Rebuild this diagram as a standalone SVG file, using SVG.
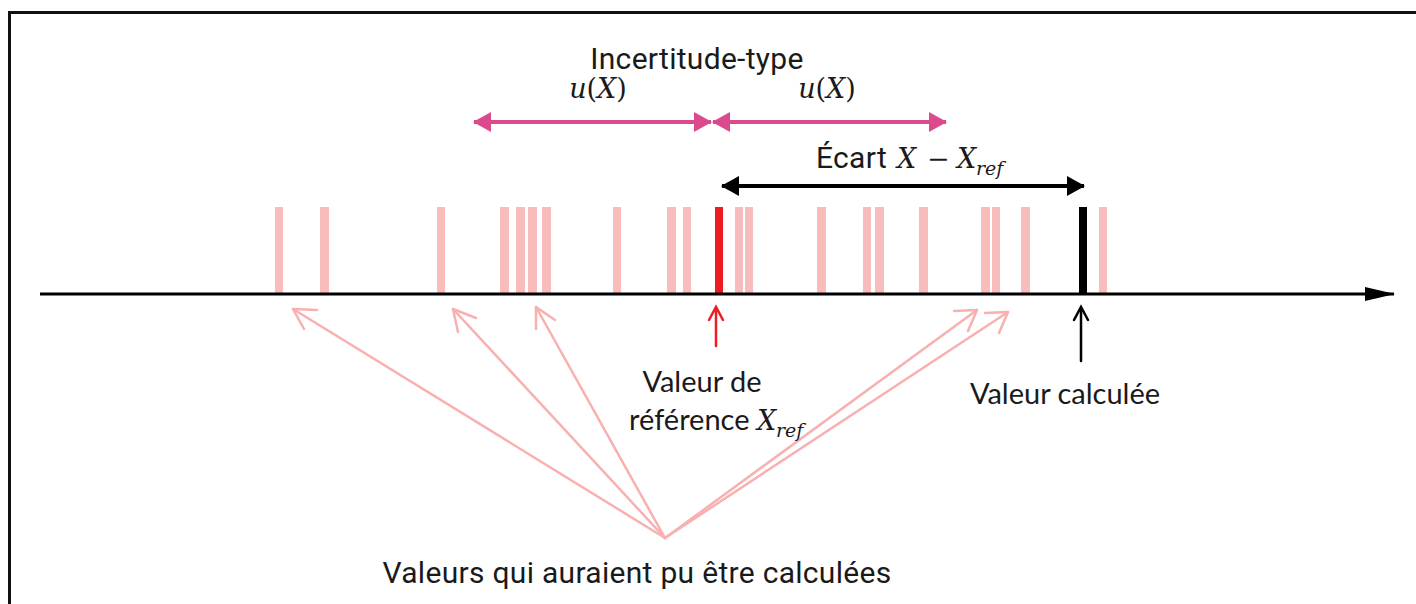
<svg xmlns="http://www.w3.org/2000/svg" width="1416" height="604" viewBox="0 0 1416 604">
<style>
.lbl{font-family:Roboto,"Liberation Sans",sans-serif;font-size:30px;letter-spacing:0.3px;fill:#1a1a1a}
.cal{font-family:Lato,"Open Sans",sans-serif;font-size:29px;fill:#1a1a1a}
.math{font-family:"DejaVu Serif","Liberation Serif",serif;font-style:italic;font-size:27px;fill:#1a1a1a}
.up{font-family:"DejaVu Serif","Liberation Serif",serif;font-size:27px;fill:#1a1a1a}
.sub{font-family:"DejaVu Serif","Liberation Serif",serif;font-style:italic;font-size:19px;fill:#1a1a1a}
.bar{fill:#f9bcbc}
.fan{stroke:#f9b0b0;stroke-width:2.5;fill:none;stroke-linecap:round;stroke-linejoin:round}
</style>
<defs>
<marker id="mag" viewBox="0 0 18 20" refX="17" refY="10" markerWidth="18" markerHeight="20" markerUnits="userSpaceOnUse" orient="auto-start-reverse">
<path d="M0,0 L18,10 L0,20 z" fill="#dc4a8e"/>
</marker>
<marker id="blk" viewBox="0 0 18 20" refX="17" refY="10" markerWidth="18" markerHeight="20" markerUnits="userSpaceOnUse" orient="auto-start-reverse">
<path d="M0,0 L18,10 L0,20 z" fill="#000"/>
</marker>
<marker id="axis" viewBox="0 0 30 14" refX="29" refY="7" markerWidth="30" markerHeight="14" markerUnits="userSpaceOnUse" orient="auto">
<path d="M0,0 L30,7 L0,14 z" fill="#000"/>
</marker>
</defs>
<rect width="1416" height="604" fill="#fff"/>
<path d="M9.5,620 V12.5 H1420" fill="none" stroke="#111" stroke-width="3"/>

<g id="bars">
<rect class="bar" x="275" y="207" width="8" height="87"/>
<rect class="bar" x="320" y="207" width="9" height="87"/>
<rect class="bar" x="437" y="207" width="8" height="87"/>
<rect class="bar" x="500" y="207" width="9" height="87"/>
<rect class="bar" x="516" y="207" width="9" height="87"/>
<rect class="bar" x="528" y="207" width="9" height="87"/>
<rect class="bar" x="542" y="207" width="9" height="87"/>
<rect class="bar" x="613" y="207" width="8" height="87"/>
<rect class="bar" x="667" y="207" width="9" height="87"/>
<rect class="bar" x="683" y="207" width="8" height="87"/>
<rect class="bar" x="735" y="207" width="8" height="87"/>
<rect class="bar" x="745" y="207" width="8" height="87"/>
<rect class="bar" x="817" y="207" width="9" height="87"/>
<rect class="bar" x="863" y="207" width="8" height="87"/>
<rect class="bar" x="875" y="207" width="9" height="87"/>
<rect class="bar" x="919" y="207" width="9" height="87"/>
<rect class="bar" x="981" y="207" width="9" height="87"/>
<rect class="bar" x="992" y="207" width="8" height="87"/>
<rect class="bar" x="1021" y="207" width="9" height="87"/>
<rect class="bar" x="1099" y="207" width="8" height="87"/>
</g>
<g id="ref-bar"><rect x="715" y="207" width="8" height="87" fill="#ed1c24"/></g>
<g id="calc-bar"><rect x="1079" y="207" width="8" height="87" fill="#000"/></g>

<g id="connectors">
<line x1="40" y1="294" x2="1394" y2="294" stroke="#000" stroke-width="3" marker-end="url(#axis)"/>
<line x1="474" y1="122" x2="711" y2="122" stroke="#dc4a8e" stroke-width="4" marker-start="url(#mag)" marker-end="url(#mag)"/>
<line x1="713" y1="122" x2="946" y2="122" stroke="#dc4a8e" stroke-width="4" marker-start="url(#mag)" marker-end="url(#mag)"/>
<line x1="722" y1="186" x2="1084" y2="186" stroke="#000" stroke-width="4" marker-start="url(#blk)" marker-end="url(#blk)"/>
<g stroke="#ed1c24" stroke-width="2.5" fill="none" stroke-linecap="round">
<line x1="716" y1="346" x2="716" y2="308"/>
<path d="M709,320 L716,307 L723,320"/>
</g>
<g stroke="#000" stroke-width="2.5" fill="none" stroke-linecap="round">
<line x1="1081" y1="361" x2="1081" y2="308"/>
<path d="M1074,320 L1081,307 L1088,320"/>
</g>
<g class="fan">
<line x1="665" y1="538" x2="293" y2="309"/>
<line x1="665" y1="538" x2="453" y2="309"/>
<line x1="665" y1="538" x2="536" y2="307"/>
<line x1="665" y1="538" x2="977" y2="310"/>
<line x1="665" y1="538" x2="1008" y2="312"/>
<path d="M304,329 L293,309 L317,310"/>
<path d="M458,332 L453,309 L476,318"/>
<path d="M536,329 L536,307 L555,320"/>
<path d="M954,311 L977,310 L968,331"/>
<path d="M985,313 L1008,312 L999,333"/>
</g>
</g>

<g id="label-incertitude"><text class="lbl" x="697" y="69" text-anchor="middle">Incertitude-type</text></g>
<g id="label-u-left"><text x="598" y="98" text-anchor="middle"><tspan class="math">u</tspan><tspan class="up">(</tspan><tspan class="math">X</tspan><tspan class="up">)</tspan></text></g>
<g id="label-u-right"><text x="827" y="98" text-anchor="middle"><tspan class="math">u</tspan><tspan class="up">(</tspan><tspan class="math">X</tspan><tspan class="up">)</tspan></text></g>
<g id="label-ecart"><text class="lbl" x="816" y="168">Écart</text><text class="math" x="897" y="168">X</text><text class="up" x="927" y="168">−</text><text class="math" x="957" y="168">X</text><text class="sub" x="976" y="175">ref</text></g>
<g id="label-ref"><text class="cal" x="702" y="392" text-anchor="middle">Valeur de</text><text class="cal" x="629" y="430">référence</text><text class="math" x="757" y="430">X</text><text class="sub" x="776" y="437">ref</text></g>
<g id="label-calc"><text class="cal" x="1065" y="404" text-anchor="middle">Valeur calculée</text></g>
<g id="label-values"><text class="lbl" x="637" y="583" text-anchor="middle">Valeurs qui auraient pu être calculées</text></g>
</svg>
